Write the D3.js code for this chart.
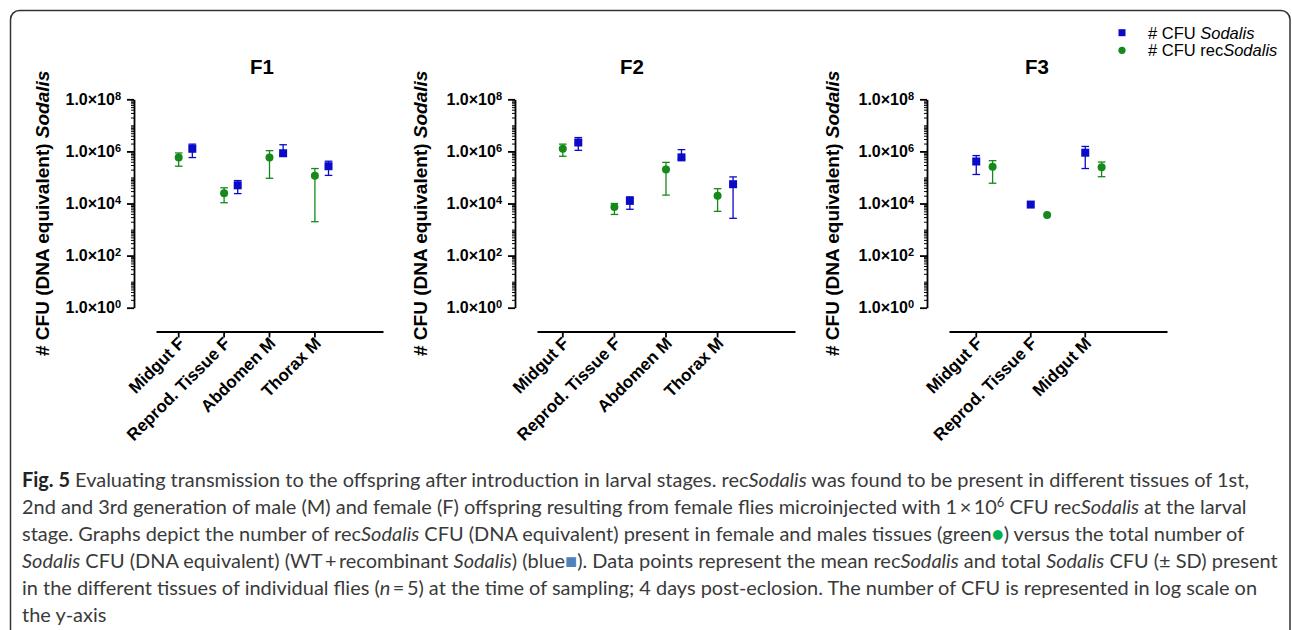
<!DOCTYPE html>
<html>
<head>
<meta charset="utf-8">
<script src="https://cdn.jsdelivr.net/npm/d3@7"></script>
<style>
  body { margin: 0; background: #fff; }
  svg { display: block; }
</style>
</head>
<body>
<div id="chart"></div>
<script>
// values (CFU, DNA equivalent); low/high = ends of the SD bars
const f1Categories = ['Midgut F', 'Reprod. Tissue F', 'Abdomen M', 'Thorax M'];
const f1RecMean = [5.8e5, 2.5e4, 5.8e5, 1.15e5];
const f1RecLow = [2.7e5, 1.07e4, 9.3e4, 2.0e3];
const f1RecHigh = [8.7e5, 4.0e4, 1.07e6, 2.2e5];
const f1TotMean = [1.26e6, 5.0e4, 8.5e5, 2.7e5];
const f1TotLow = [5.8e5, 2.4e4, 7.1e5, 1.2e5];
const f1TotHigh = [1.9e6, 7.6e4, 1.8e6, 4.2e5];

const f2Categories = ['Midgut F', 'Reprod. Tissue F', 'Abdomen M', 'Thorax M'];
const f2RecMean = [1.26e6, 7.4e3, 2.0e5, 2.0e4];
const f2RecLow = [6.5e5, 3.8e3, 2.1e4, 5.0e3];
const f2RecHigh = [1.9e6, 1.0e4, 3.8e5, 3.7e4];
const f2TotMean = [2.2e6, 1.26e4, 5.9e5, 5.5e4];
const f2TotLow = [1.1e6, 6.0e3, 5.0e5, 2.7e3];
const f2TotHigh = [3.4e6, 1.8e4, 1.17e6, 1.05e5];

const f3Categories = ['Midgut F', 'Reprod. Tissue F', 'Midgut M'];
const f3RecMean = [2.6e5, 3.6e3, 2.45e5];
const f3RecLow = [6.0e4, null, 1.07e5];
const f3RecHigh = [4.4e5, null, 3.9e5];
const f3TotMean = [4.1e5, 9.1e3, 8.9e5];
const f3TotLow = [1.3e5, null, 2.2e5];
const f3TotHigh = [6.9e5, null, 1.55e6];

const yLabelExponents = [0, 2, 4, 6, 8];
const legendLabels = [['# CFU ', 'Sodalis'], ['# CFU rec', 'Sodalis']];

const BLUE = '#0a0ac8';
const GREEN = '#15891a';
const FONT = 'Liberation Sans, Arial, sans-serif';

const width = 1292;
const height = 630;

const svg = d3.select('#chart').append('svg').attr('width', width).attr('height', height);

// outer frame
svg
  .append('rect')
  .attr('x', 10.5)
  .attr('y', 10.5)
  .attr('width', 1279.5)
  .attr('height', 660)
  .attr('rx', 9)
  .attr('fill', 'none')
  .attr('stroke', '#333')
  .attr('stroke-width', 1.5);

const pack = (mean, low, high) => mean.map((m, i) => ({ i, mean: m, low: low[i], high: high[i] }));

const panels = [
  {
    title: 'F1',
    titleX: 262,
    yTitleX: 42,
    axisX: 134,
    xStart: 156,
    xEnd: 383,
    slots: 5,
    cats: f1Categories,
    series: [
      { color: GREEN, shape: 'circle', pts: pack(f1RecMean, f1RecLow, f1RecHigh) },
      { color: BLUE, shape: 'square', pts: pack(f1TotMean, f1TotLow, f1TotHigh) },
    ],
  },
  {
    title: 'F2',
    titleX: 632,
    yTitleX: 420,
    axisX: 515,
    xStart: 537,
    xEnd: 795,
    slots: 5,
    cats: f2Categories,
    series: [
      { color: GREEN, shape: 'circle', pts: pack(f2RecMean, f2RecLow, f2RecHigh) },
      { color: BLUE, shape: 'square', pts: pack(f2TotMean, f2TotLow, f2TotHigh) },
    ],
  },
  {
    title: 'F3',
    titleX: 1037,
    yTitleX: 832,
    axisX: 927,
    xStart: 949,
    xEnd: 1167,
    slots: 4,
    cats: f3Categories,
    series: [
      { color: BLUE, shape: 'square', pts: pack(f3TotMean, f3TotLow, f3TotHigh) },
      { color: GREEN, shape: 'circle', pts: pack(f3RecMean, f3RecLow, f3RecHigh) },
    ],
  },
];

const y = d3.scaleLog().domain([1, 1e8]).range([307.7, 99.3]);
const xAxisY = 331.5;

const minorTicks = d3
  .range(0, 8)
  .flatMap((k) => d3.range(1, 10).map((m) => m * 10 ** k))
  .filter((v) => !yLabelExponents.includes(Math.log10(v)));

panels.forEach((p) => {
  const g = svg.append('g').attr('font-family', FONT);

  // title
  g.append('text')
    .attr('x', p.titleX)
    .attr('y', 74)
    .attr('text-anchor', 'middle')
    .attr('font-size', 20.5)
    .attr('font-weight', 'bold')
    .text(p.title);

  // y axis title
  const yt = g
    .append('text')
    .attr('transform', `translate(${p.yTitleX + 7},356) rotate(-90)`)
    .attr('font-size', 19)
    .attr('font-weight', 'bold');
  yt.append('tspan').text('# CFU (DNA equivalent)  ');
  yt.append('tspan').attr('font-style', 'italic').text('Sodalis');

  // minor y ticks
  g.append('g')
    .attr('transform', `translate(${p.axisX},0)`)
    .call(d3.axisLeft(y).tickValues(minorTicks).tickSize(3).tickSizeOuter(0).tickFormat(''))
    .call((a) => a.selectAll('line').attr('stroke-width', 1))
    .call((a) => a.select('.domain').attr('stroke-width', 1.8));

  // major y ticks with labels
  const yAxis = g
    .append('g')
    .attr('transform', `translate(${p.axisX},0)`)
    .call(
      d3
        .axisLeft(y)
        .tickValues(yLabelExponents.map((e) => 10 ** e))
        .tickSize(7)
        .tickSizeOuter(0)
        .tickPadding(6),
    );
  yAxis.select('.domain').remove();
  yAxis.selectAll('line').attr('stroke-width', 1.8);
  yAxis
    .selectAll('text')
    .attr('font-size', 16)
    .attr('font-weight', 'bold')
    .attr('font-family', FONT)
    .each(function (d) {
      const t = d3.select(this);
      t.text(null);
      t.append('tspan').text('1.0\u00d710');
      t.append('tspan').attr('dy', '-0.45em').attr('font-size', 11).text(Math.round(Math.log10(d)));
    });

  // x axis
  const x = d3.scaleBand().domain(d3.range(p.slots)).range([p.xStart, p.xEnd]);
  const xAxis = g
    .append('g')
    .attr('transform', `translate(0,${xAxisY})`)
    .call(
      d3
        .axisBottom(x)
        .tickValues(d3.range(p.cats.length))
        .tickSize(6)
        .tickSizeOuter(0)
        .tickFormat((i) => p.cats[i]),
    );
  xAxis.select('.domain').attr('stroke-width', 1.8);
  xAxis.selectAll('line').attr('stroke-width', 1.8);
  xAxis
    .selectAll('text')
    .attr('font-size', 17)
    .attr('font-weight', 'bold')
    .attr('font-family', FONT)
    .attr('text-anchor', 'end')
    .attr('x', 0)
    .attr('y', 0)
    .attr('dy', 0)
    .attr('transform', 'translate(7,13) rotate(-45)');

  // points with error bars
  const step = x.step();
  p.series.forEach((s, si) => {
    const cx = (d) => x(d.i) + x.bandwidth() / 2 + si * step * 0.3;
    const sg = g.append('g');
    const bars = s.pts.filter((d) => d.low != null);
    sg.selectAll('line.bar')
      .data(bars)
      .join('line')
      .attr('x1', cx)
      .attr('x2', cx)
      .attr('y1', (d) => y(d.low))
      .attr('y2', (d) => y(d.high))
      .attr('stroke', s.color)
      .attr('stroke-width', 1.3);
    ['low', 'high'].forEach((k) => {
      sg.selectAll(`line.cap-${k}`)
        .data(bars)
        .join('line')
        .attr('x1', (d) => cx(d) - 3.8)
        .attr('x2', (d) => cx(d) + 3.8)
        .attr('y1', (d) => y(d[k]))
        .attr('y2', (d) => y(d[k]))
        .attr('stroke', s.color)
        .attr('stroke-width', 1.3);
    });
    if (s.shape === 'circle') {
      sg.selectAll('circle')
        .data(s.pts)
        .join('circle')
        .attr('cx', cx)
        .attr('cy', (d) => y(d.mean))
        .attr('r', 4)
        .attr('fill', s.color);
    } else {
      sg.selectAll('rect')
        .data(s.pts)
        .join('rect')
        .attr('x', (d) => cx(d) - 4)
        .attr('y', (d) => y(d.mean) - 4)
        .attr('width', 8)
        .attr('height', 8)
        .attr('fill', s.color);
    }
  });
});

// legend
const legend = svg.append('g').attr('font-family', FONT).attr('font-size', 16.5);
legend.append('rect').attr('x', 1118.5).attr('y', 29.2).attr('width', 7).attr('height', 7).attr('fill', BLUE);
legend.append('circle').attr('cx', 1122).attr('cy', 50.3).attr('r', 3.6).attr('fill', GREEN);
legendLabels.forEach((l, i) => {
  const t = legend.append('text').attr('x', 1148).attr('y', 38.5 + i * 17.6);
  t.append('tspan').text(l[0]);
  t.append('tspan').attr('font-style', 'italic').text(l[1]);
});

// caption
const I = 'i';
const B = 'b';
const captionLines = [
  [['Fig. 5', B], [' Evaluating transmission to the offspring after introduction in larval stages. rec'], ['Sodalis', I], [' was found to be present in different tissues of 1st,']],
  [['2nd and 3rd generation of male (M) and female (F) offspring resulting from female flies microinjected with 1\u2009\u00d7\u200910'], ['6', 'sup'], [' CFU rec'], ['Sodalis', I], [' at the larval']],
  [['stage. Graphs depict the number of rec'], ['Sodalis', I], [' CFU (DNA equivalent) present in female and males tissues (green'], ['\u25cf', 'green'], [') versus the total number of']],
  [['Sodalis', I], [' CFU (DNA equivalent) (WT\u2009+\u2009recombinant '], ['Sodalis', I], [') (blue'], ['\u25a0', 'blue'], ['). Data points represent the mean rec'], ['Sodalis', I], [' and total '], ['Sodalis', I], [' CFU (\u00b1 SD) present']],
  [['in the different tissues of individual flies ('], ['n', I], ['\u2009=\u20095) at the time of sampling; 4 days post-eclosion. The number of CFU is represented in log scale on']],
  [['the y-axis']],
];

const caption = svg.append('g').attr('font-family', 'Lato, sans-serif').attr('fill', '#3a3a3a').attr('font-size', 16);
const captionTexts = captionLines.map((segs, li) => {
  const t = caption.append('text').attr('x', 22).attr('y', 487 + li * 27);
  segs.forEach(([txt, st]) => {
    const ts = t.append('tspan').text(txt);
    if (st === I) ts.attr('font-style', 'italic');
    if (st === B) ts.attr('font-weight', 'bold').attr('fill', '#222');
    if (st === 'sup') ts.attr('dy', -7).attr('font-size', '0.65em');
    if (st === 'green') ts.attr('fill', '#00b050');
    if (st === 'blue') ts.attr('fill', '#4f81bd');
  });
  // drop back to baseline after a superscript
  t.selectAll('tspan').each(function (d, k, nodes) {
    if (k > 0 && d3.select(nodes[k - 1]).attr('dy') === '-7') d3.select(this).attr('dy', 7);
  });
  return t;
});
// fit caption size so the longest line spans the same width as the figure
const w4 = captionTexts[3].node().getComputedTextLength();
caption.attr('font-size', (16 * 1256) / w4);
</script>
</body>
</html>
